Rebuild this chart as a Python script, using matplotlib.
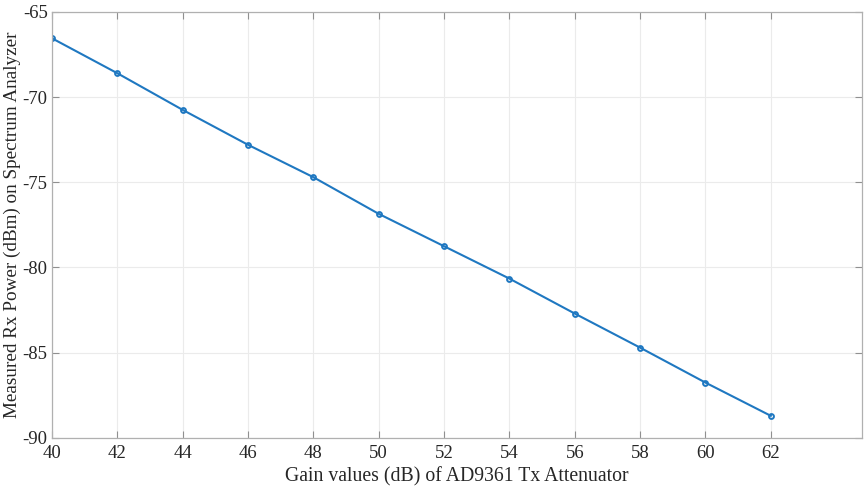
import matplotlib
matplotlib.use("Agg")
import matplotlib.pyplot as plt

# Gain setting of the AD9361 Tx attenuator (dB)
gain_db = [40, 42, 44, 46, 48, 50, 52, 54, 56, 58, 60, 62]
# Measured Rx power on spectrum analyzer (dBm)
rx_power_dbm = [-66.55, -68.6, -70.75, -72.8, -74.7, -76.85,
                -78.75, -80.65, -82.7, -84.7, -86.75, -88.7]

x_ticks = [40, 42, 44, 46, 48, 50, 52, 54, 56, 58, 60, 62]
y_ticks = [-90, -85, -80, -75, -70, -65]

plt.rcParams["font.family"] = ["Liberation Serif", "DejaVu Serif"]
plt.rcParams["axes.unicode_minus"] = False

fig = plt.figure(figsize=(8.64, 4.91), dpi=100)
ax = fig.add_axes([0.060, 0.108, 0.938, 0.868])

ax.plot(gain_db, rx_power_dbm, color="#1f78c1", linewidth=1.5,
        marker="o", markersize=3.5, markerfacecolor="none",
        markeredgewidth=1.4)

ax.set_xlim(40, 64.8)
ax.set_ylim(-90, -65)
ax.set_xticks(x_ticks)
ax.set_yticks(y_ticks)
ax.grid(True, color="#ebebeb", linewidth=0.8)
ax.set_axisbelow(True)

for s in ax.spines.values():
    s.set_color("#b0b0b0")
    s.set_linewidth(0.9)
ax.tick_params(direction="in", length=5, width=0.8, color="#909090",
               labelsize=13.5, labelcolor="#262626", top=True, right=True)
ax.tick_params(axis="x", pad=5)
ax.tick_params(axis="y", pad=3)

ax.set_xlabel("Gain values (dB) of AD9361 Tx Attenuator", fontsize=14.2,
              color="#262626", labelpad=4)
ax.set_ylabel("Measured Rx Power (dBm) on Spectrum Analyzer", fontsize=13.8,
              color="#262626", labelpad=1)

fig.savefig("out.png", dpi=100)
